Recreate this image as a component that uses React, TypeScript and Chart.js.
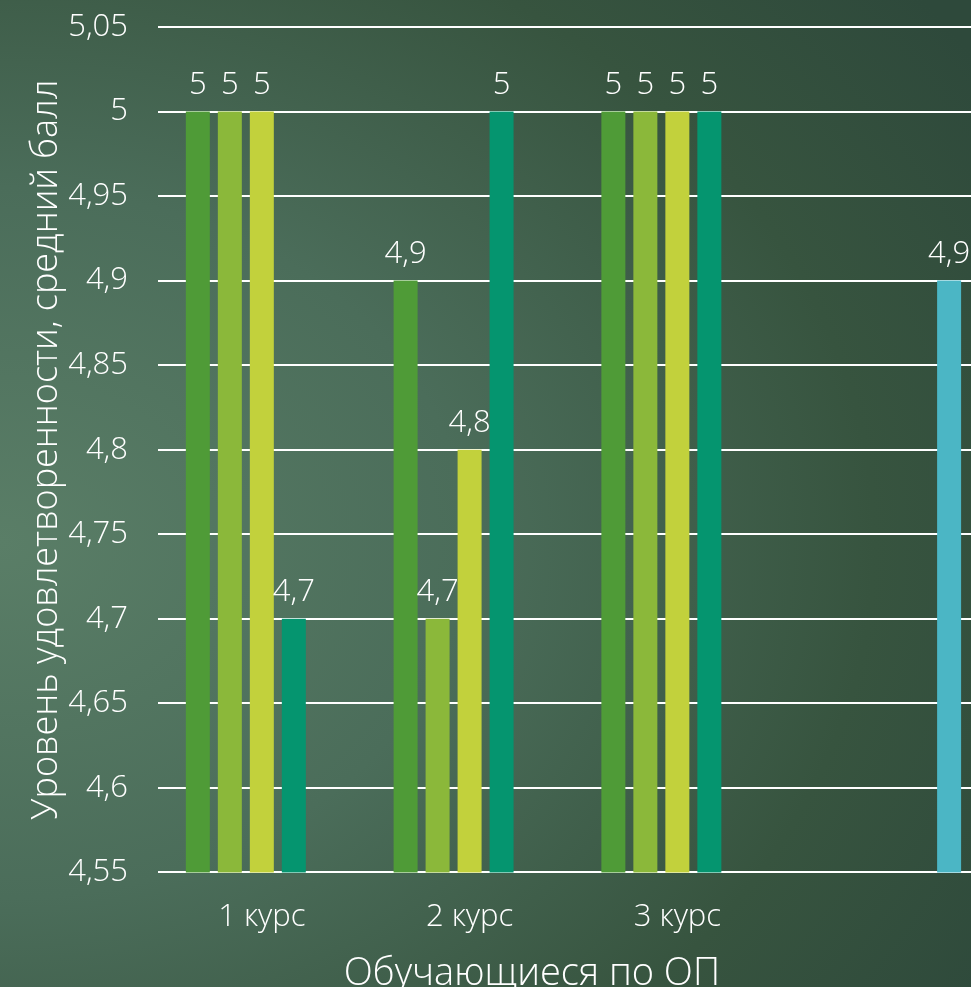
import React, { useEffect, useRef } from "react";
import { Chart, registerables } from "chart.js";

Chart.register(...registerables);

const CATEGORIES = ["1 курс", "2 курс", "3 курс", ""];
const SERIES_1 = [5, 4.9, 5, null];
const SERIES_2 = [5, 4.7, 5, null];
const SERIES_3 = [5, 4.8, 5, null];
const SERIES_4 = [4.7, 5, 5, null];
const SERIES_5 = [null, null, null, 4.9];
const SERIES_COLORS = ["#4F9B37", "#8BB83A", "#C2D13C", "#05956F", "#4BB6C5"];
const Y_TICKS = [4.55, 4.6, 4.65, 4.7, 4.75, 4.8, 4.85, 4.9, 4.95, 5, 5.05];
const Y_TITLE = "Уровень удовлетворенности, средний балл";
const X_TITLE = "Обучающиеся по ОП";

const FONT = "'Open Sans', 'Noto Sans', sans-serif";

const fmt = (v: number) => String(parseFloat(Number(v).toFixed(2))).replace(".", ",");

const valueLabels = {
  id: "valueLabels",
  afterDatasetsDraw(chart: any) {
    const ctx = chart.ctx;
    ctx.save();
    ctx.fillStyle = "#FFFFFF";
    ctx.font = `300 31px ${FONT}`;
    ctx.textAlign = "center";
    ctx.textBaseline = "alphabetic";
    chart.data.datasets.forEach((ds: any, i: number) => {
      const meta = chart.getDatasetMeta(i);
      meta.data.forEach((el: any, j: number) => {
        const v = ds.data[j];
        if (v === null || v === undefined) return;
        ctx.fillText(fmt(v), el.x, el.y - 18);
      });
    });
    ctx.restore();
  },
};

const xTitle = {
  id: "xTitle",
  afterDraw(chart: any) {
    const ctx = chart.ctx;
    const a = chart.chartArea;
    ctx.save();
    ctx.fillStyle = "#FFFFFF";
    ctx.font = `300 38px ${FONT}`;
    ctx.textAlign = "center";
    ctx.textBaseline = "alphabetic";
    ctx.fillText(X_TITLE, a.left + (a.right - a.left) * 0.45, chart.height - 2);
    ctx.restore();
  },
};

export default function App() {
  const ref = useRef<HTMLCanvasElement>(null);
  useEffect(() => {
    document.body.style.margin = "0";
    const seriesData = [SERIES_1, SERIES_2, SERIES_3, SERIES_4, SERIES_5];
    const chart = new Chart(ref.current as HTMLCanvasElement, {
      type: "bar",
      data: {
        labels: CATEGORIES,
        datasets: seriesData.map((d, i) => ({
          label: "Ряд " + (i + 1),
          data: d as any,
          backgroundColor: SERIES_COLORS[i],
          borderWidth: 0,
          barPercentage: 0.75,
          categoryPercentage: 0.77,
        })),
      },
      options: {
        animation: false,
        responsive: false,
        maintainAspectRatio: false,
        layout: { padding: { top: 27, left: 20, right: 6, bottom: 0 } },
        plugins: { legend: { display: false }, tooltip: { enabled: false } },
        scales: {
          x: {
            grid: { display: false, drawTicks: false },
            border: { display: false },
            ticks: { color: "#FFFFFF", font: { family: FONT, size: 31, weight: 300 as any }, padding: 26 },
            title: {
              display: true,
              text: X_TITLE,
              color: "rgba(0,0,0,0)",
              font: { family: FONT, size: 37, weight: 300 as any },
              padding: { top: 0, bottom: -19 },
            },
          },
          y: {
            min: 4.55,
            max: 5.05,
            afterBuildTicks: (scale: any) => {
              scale.ticks = Y_TICKS.map((v) => ({ value: v }));
            },
            afterFit: (scale: any) => {
              scale.paddingTop = 0;
              scale.paddingBottom = 0;
            },
            grid: { color: "#FFFFFF", lineWidth: 2, drawTicks: false },
            border: { display: false },
            ticks: {
              color: "#FFFFFF",
              font: { family: FONT, size: 31, weight: 300 as any },
              padding: 30,
              callback: (v: any) => fmt(v),
            },
            title: {
              display: true,
              text: Y_TITLE,
              color: "#FFFFFF",
              font: { family: FONT, size: 36, weight: 300 as any },
              padding: { top: 5, bottom: -30 },
            },
          },
        },
      },
      plugins: [valueLabels, xTitle],
    });
    return () => chart.destroy();
  }, []);

  return (
    <div
      style={{
        position: "fixed",
        left: 0,
        top: 0,
        width: 971,
        height: 987,
        overflow: "hidden",
        background:
          "radial-gradient(ellipse 120% 90% at 0% 55%, #5A7E67 0%, #4B6D5A 40%, #37543F 75%, #2E493B 100%)",
      }}
    >
      <canvas
        ref={ref}
        width={995}
        height={987}
        style={{ position: "absolute", left: 0, top: 0, width: 995, height: 987 }}
      />
    </div>
  );
}
